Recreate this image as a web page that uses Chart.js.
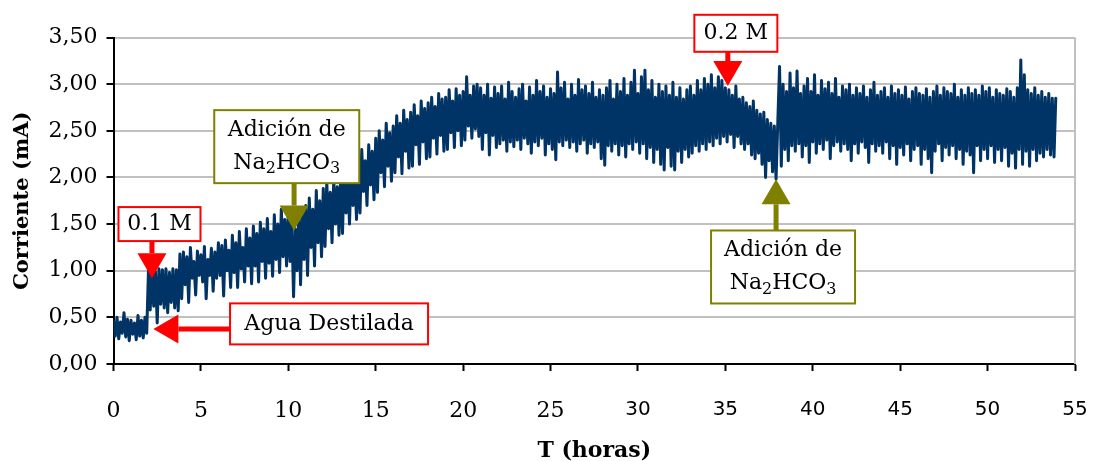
<!DOCTYPE html>
<html>
<head>
<meta charset="utf-8">
<script src="https://cdn.jsdelivr.net/npm/chart.js@4.4.0/dist/chart.umd.min.js"></script>
<style>
  html, body { margin: 0; padding: 0; background: #ffffff; }
  #grafico { display: block; }
</style>
</head>
<body>
<canvas id="grafico" width="1096" height="461"></canvas>
<script>
// Registro de corriente (mA), una lectura cada 0,1 h
const pasoHoras = 0.1;

// Agua destilada (0,0 – 1,9 h)
const aguaDestilada = [
  0.46,0.30,0.50,0.27,0.45,0.33,0.55,0.29,0.48,0.25,
  0.47,0.32,0.44,0.26,0.52,0.30,0.47,0.28,0.50,0.33
];

// Solución 0.1 M (2,0 – 9,9 h)
const solucion01M = [
  1.01,0.58,1.02,0.62,0.99,0.44,1.02,0.64,1.01,0.60,
  1.02,0.55,0.98,0.66,1.02,0.60,1.01,0.57,1.18,0.70,
  1.20,0.85,1.15,0.66,1.25,0.92,1.10,0.74,1.21,0.95,
  1.17,0.88,1.26,0.70,1.12,0.95,1.24,0.78,1.20,0.92,
  1.30,0.95,1.27,0.73,1.33,1.00,1.22,0.82,1.38,0.98,
  1.30,0.82,1.42,1.02,1.25,0.88,1.45,1.05,1.35,0.86,
  1.48,1.05,1.40,0.88,1.52,1.10,1.45,0.92,1.56,1.08,
  1.42,0.94,1.60,1.12,1.50,0.98,1.66,1.15,1.55,1.05
];

// Tras la primera adición de Na2HCO3 (10,0 – 34,9 h)
const trasPrimeraAdicion = [
  1.62,1.10,1.50,0.72,1.45,1.00,1.60,0.85,1.64,1.12,
  1.70,0.95,1.78,1.25,1.66,1.05,1.86,1.30,1.75,1.15,
  1.88,1.26,1.95,1.45,1.84,1.30,1.98,1.50,1.90,1.38,
  2.05,1.40,2.12,1.62,1.98,1.50,2.15,1.70,2.08,1.55,
  2.20,1.62,2.30,1.85,2.18,1.70,2.35,1.92,2.28,1.76,
  2.42,1.84,2.50,2.05,2.40,1.90,2.58,2.12,2.48,1.96,
  2.55,2.05,2.66,2.22,2.58,2.04,2.72,2.28,2.62,2.10,
  2.70,2.12,2.78,2.35,2.66,2.14,2.82,2.38,2.74,2.20,
  2.80,2.22,2.86,2.42,2.76,2.25,2.90,2.45,2.84,2.28,
  2.86,2.30,2.94,2.48,2.82,2.32,2.95,2.50,2.88,2.34,
  2.92,2.40,3.08,2.55,2.88,2.42,2.98,2.52,3.00,2.44,
  2.96,2.30,2.88,2.48,3.00,2.24,2.85,2.45,2.97,2.32,
  2.90,2.36,2.98,2.40,2.84,2.28,3.02,2.38,2.92,2.33,
  2.86,2.40,2.95,2.30,3.00,2.42,2.82,2.36,2.97,2.26,
  2.88,2.38,3.04,2.34,2.92,2.42,2.98,2.24,2.86,2.36,
  2.95,2.30,2.90,2.19,3.13,2.38,2.96,2.34,3.02,2.40,
  2.84,2.32,3.00,2.38,2.88,2.28,3.05,2.36,2.94,2.40,
  2.98,2.26,2.90,2.36,3.02,2.32,2.86,2.38,2.94,2.20,
  2.88,2.13,2.96,2.34,3.04,2.28,2.84,2.36,3.00,2.24,
  2.92,2.34,3.06,2.22,2.88,2.36,3.02,2.30,3.15,2.38,
  2.90,2.26,3.08,2.36,3.15,2.20,2.94,2.32,3.04,2.16,
  2.86,2.30,3.00,2.14,2.92,2.08,2.98,2.32,2.88,2.12,
  3.02,2.08,2.86,2.28,2.96,2.16,2.84,2.30,2.94,2.22,
  2.98,2.26,2.88,2.34,3.04,2.28,2.94,2.36,3.06,2.30,
  3.00,2.38,3.10,2.34,2.96,2.42,3.08,2.36,3.04,2.44
];

// Solución 0.2 M (35,0 – 37,9 h)
const solucion02M = [
  2.96,2.38,2.94,2.46,2.88,2.32,2.98,2.44,2.84,2.36,
  2.86,2.30,2.80,2.36,2.76,2.24,2.82,2.20,2.72,2.26,
  2.68,2.14,2.70,2.00,2.62,2.18,2.58,2.06,2.55,1.98
];

// Tras la segunda adición de Na2HCO3 (38,0 – 53,9 h)
const trasSegundaAdicion = [
  2.60,3.19,2.12,3.00,2.30,2.92,2.18,3.12,2.34,2.96,
  2.28,3.14,2.36,2.90,2.22,2.98,2.34,3.06,2.16,2.92,
  2.38,3.10,2.26,2.88,2.36,3.04,2.30,2.95,2.40,3.02,
  2.20,2.90,2.34,3.06,2.38,2.86,2.28,2.98,2.36,2.94,
  2.30,3.00,2.18,2.88,2.36,2.96,2.26,2.90,2.38,2.98,
  2.32,2.86,2.16,2.94,2.36,3.02,2.28,2.88,2.34,2.92,
  2.26,2.96,2.38,2.86,2.20,2.98,2.34,2.90,2.14,2.94,
  2.32,2.88,2.24,2.97,2.36,2.84,2.18,2.92,2.30,2.96,
  2.34,2.90,2.14,2.88,2.30,2.95,2.20,2.86,2.05,2.92,
  2.28,2.98,2.36,2.88,2.18,2.96,2.32,2.92,2.24,2.90,
  2.34,3.00,2.20,2.86,2.30,2.94,2.14,2.88,2.28,2.96,
  2.24,2.90,2.05,2.94,2.34,2.88,2.18,2.98,2.30,2.92,
  2.20,2.96,2.34,2.86,2.16,2.94,2.30,2.90,2.18,2.88,
  2.32,2.95,2.12,2.92,2.26,2.86,2.10,2.96,2.30,3.26,
  2.14,3.10,2.28,2.94,2.12,2.90,2.30,2.96,2.18,2.88,
  2.26,2.92,2.22,2.86,2.30,2.90,2.24,2.85,2.22,2.85
];

// Marcas de los ejes
const ticksHoras = [0, 5, 10, 15, 20, 25, 30, 35, 40, 45, 50, 55];
const ticksCorriente = [0, 0.5, 1, 1.5, 2, 2.5, 3, 3.5];

// Rótulos con flecha: caja centrada en (t, mA); la flecha termina en la punta
const anotaciones = [
  { texto: ['0.1 M'], color: '#ff0000',
    caja: { t: 2.63, mA: 1.50, ancho: 82, alto: 34 }, punta: { t: 2.20, mA: 0.92 } },
  { texto: ['Agua Destilada'], color: '#ff0000',
    caja: { t: 12.33, mA: 0.43, ancho: 198, alto: 41 }, punta: { t: 2.28, mA: 0.375 } },
  { texto: ['Adición de', 'Na_2HCO_3'], color: '#808000',
    caja: { t: 9.91, mA: 2.33, ancho: 145, alto: 73 }, punta: { t: 10.33, mA: 1.43 } },
  { texto: ['0.2 M'], color: '#ff0000',
    caja: { t: 35.6, mA: 3.545, ancho: 83, alto: 37 }, punta: { t: 35.14, mA: 2.98 } },
  { texto: ['Adición de', 'Na_2HCO_3'], color: '#808000',
    caja: { t: 38.3, mA: 1.04, ancho: 144, alto: 73 }, punta: { t: 37.9, mA: 1.98 } }
];

const corriente = [].concat(aguaDestilada, solucion01M, trasPrimeraAdicion, solucion02M, trasSegundaAdicion);
const puntos = corriente.map((v, i) => ({ x: Math.round(i * pasoHoras * 10) / 10, y: v }));

const SERIF = "'DejaVu Serif', 'Liberation Serif', serif";
const SANS = "'DejaVu Sans', 'Liberation Sans', sans-serif";
const FUENTE_ROTULO = 22;

// Divide "Na_2HCO_3" en tramos normales y subíndices
function tramos(linea) {
  const out = [];
  let buf = '';
  for (let i = 0; i < linea.length; i++) {
    if (linea[i] === '_' && i + 1 < linea.length) {
      if (buf) { out.push({ s: buf, sub: false }); buf = ''; }
      out.push({ s: linea[i + 1], sub: true });
      i++;
    } else buf += linea[i];
  }
  if (buf) out.push({ s: buf, sub: false });
  return out;
}

function fuenteTramo(sub) {
  return (sub ? Math.round(FUENTE_ROTULO * 0.72) : FUENTE_ROTULO) + 'px ' + SERIF;
}

function anchoLinea(ctx, linea) {
  return tramos(linea).reduce((w, tr) => { ctx.font = fuenteTramo(tr.sub); return w + ctx.measureText(tr.s).width; }, 0);
}

function dibujarLinea(ctx, linea, cx, cy) {
  let x = cx - anchoLinea(ctx, linea) / 2;
  ctx.textBaseline = 'middle';
  ctx.textAlign = 'left';
  tramos(linea).forEach(tr => {
    ctx.font = fuenteTramo(tr.sub);
    ctx.fillText(tr.s, x, tr.sub ? cy + 6 : cy);
    x += ctx.measureText(tr.s).width;
  });
}

const GROSOR_FLECHA = 5, LARGO_CABEZA = 25, ANCHO_CABEZA = 29;

const pluginAnotaciones = {
  id: 'anotaciones',
  beforeDatasetsDraw(chart) {
    // borde derecho del área de trazado
    const { ctx, chartArea: a } = chart;
    ctx.save();
    ctx.strokeStyle = '#c0c0c0';
    ctx.lineWidth = 2;
    ctx.beginPath();
    ctx.moveTo(a.right, a.top);
    ctx.lineTo(a.right, a.bottom);
    ctx.stroke();
    ctx.restore();
  },
  afterDatasetsDraw(chart) {
    const { ctx, scales: { x, y } } = chart;
    anotaciones.forEach(an => {
      const cx = x.getPixelForValue(an.caja.t), cy = y.getPixelForValue(an.caja.mA);
      const tx = x.getPixelForValue(an.punta.t), ty = y.getPixelForValue(an.punta.mA);
      const w = an.caja.ancho, h = an.caja.alto;
      const bx = cx - w / 2, by = cy - h / 2;
      ctx.save();
      ctx.fillStyle = an.color;
      ctx.beginPath();
      if (ty > by + h) {            // flecha hacia abajo
        const base = ty - LARGO_CABEZA;
        ctx.fillRect(tx - GROSOR_FLECHA / 2, by + h, GROSOR_FLECHA, base - (by + h));
        ctx.moveTo(tx - ANCHO_CABEZA / 2, base); ctx.lineTo(tx + ANCHO_CABEZA / 2, base); ctx.lineTo(tx, ty);
      } else if (ty < by) {         // flecha hacia arriba
        const base = ty + LARGO_CABEZA;
        ctx.fillRect(tx - GROSOR_FLECHA / 2, base, GROSOR_FLECHA, by - base);
        ctx.moveTo(tx - ANCHO_CABEZA / 2, base); ctx.lineTo(tx + ANCHO_CABEZA / 2, base); ctx.lineTo(tx, ty);
      } else {                      // flecha hacia la izquierda
        const base = tx + LARGO_CABEZA;
        ctx.fillRect(base, ty - GROSOR_FLECHA / 2, bx - base, GROSOR_FLECHA);
        ctx.moveTo(base, ty - ANCHO_CABEZA / 2); ctx.lineTo(base, ty + ANCHO_CABEZA / 2); ctx.lineTo(tx, ty);
      }
      ctx.closePath();
      ctx.fill();
      // caja
      ctx.fillStyle = '#ffffff';
      ctx.fillRect(bx, by, w, h);
      ctx.strokeStyle = an.color;
      ctx.lineWidth = 2;
      ctx.strokeRect(bx, by, w, h);
      // texto
      ctx.fillStyle = '#000000';
      const inter = 33;
      const y0 = cy - (an.texto.length - 1) * inter / 2;
      an.texto.forEach((l, i) => dibujarLinea(ctx, l, cx, y0 + i * inter));
      ctx.restore();
    });
  }
};

new Chart(document.getElementById('grafico'), {
  type: 'line',
  data: {
    datasets: [{
      data: puntos,
      borderColor: '#003366',
      borderWidth: 3,
      borderJoinStyle: 'round',
      borderCapStyle: 'round',
      pointRadius: 0,
      tension: 0,
      fill: false
    }]
  },
  options: {
    responsive: false,
    animation: false,
    events: [],
    layout: { padding: { left: 0, right: 21, top: 37.5, bottom: 0 } },
    plugins: { legend: { display: false }, tooltip: { enabled: false } },
    scales: {
      x: {
        type: 'linear', min: 0, max: 55,
        afterBuildTicks: s => { s.ticks = ticksHoras.map(v => ({ value: v })); },
        afterFit: s => { s.height = 97; s.paddingLeft = 0; s.paddingRight = 0; },
        grid: { drawOnChartArea: false, drawTicks: true, tickLength: 7, tickColor: '#000', tickWidth: 2, color: '#000' },
        border: { display: true, color: '#000', width: 2 },
        ticks: {
          padding: 27, color: '#000', maxRotation: 0, autoSkip: false,
          font: ctx => ({ family: ctx.tick && ctx.tick.value >= 30 ? SANS : SERIF, size: ctx.tick && ctx.tick.value >= 30 ? 20 : 22 }),
          callback: v => String(v)
        },
        title: {
          display: true, text: 'T (horas)', color: '#000',
          font: { family: SERIF, weight: 'bold', size: 22, lineHeight: 1 },
          padding: { top: 0, bottom: -1 }
        }
      },
      y: {
        min: 0, max: 3.5,
        afterBuildTicks: s => { s.ticks = ticksCorriente.map(v => ({ value: v })); },
        afterFit: s => { s.width = 113.5; },
        grid: { color: '#c0c0c0', lineWidth: 2, drawTicks: true, tickLength: 7, tickColor: '#000', tickWidth: 2 },
        border: { display: true, color: '#000', width: 2 },
        ticks: {
          padding: 9, color: '#000',
          font: { family: SERIF, size: 22 },
          callback: v => v.toFixed(2).replace('.', ',')
        },
        title: {
          display: true, text: 'Corriente (mA)', color: '#000',
          font: { family: SERIF, weight: 'bold', size: 21, lineHeight: 1 },
          padding: { top: 12, bottom: 0 }
        }
      }
    }
  },
  plugins: [pluginAnotaciones]
});
</script>
</body>
</html>
